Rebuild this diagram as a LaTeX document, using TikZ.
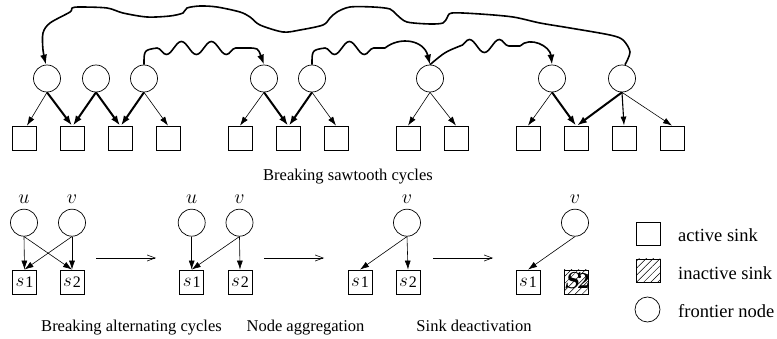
\documentclass[tikz,border=0pt]{standalone}
\usepackage{fix-cm}
\usepackage{fontspec}
\setmainfont{Liberation Serif}
\usetikzlibrary{arrows.meta,decorations.pathmorphing,patterns.meta}
\newcommand\sinklab[1]{$s$\kern1pt\lower1pt\hbox{\fontsize{16}{16}\selectfont #1}}
\begin{document}
\begin{tikzpicture}[x=1pt,y=-1pt,
 circ/.style={circle,draw,line width=0.7pt,minimum size=27pt,inner sep=0pt},
 sq/.style={rectangle,draw,line width=0.8pt,minimum width=24pt,minimum height=24pt,inner sep=0pt,font=\fontsize{19}{19}\selectfont},
 hatchbox/.style={sq,pattern={Lines[angle=45,distance=5pt,line width=0.5pt]}},
 thinarr/.style={line width=0.6pt,-{Latex[length=9pt,width=6pt]}},
 medarr/.style={line width=1.1pt,-{Latex[length=9pt,width=6pt]}},
 thickarr/.style={line width=2pt,-{Latex[length=10pt,width=7pt]}},
 wavy/.style={line width=1.6pt,-{Latex[length=10pt,width=7pt]},line join=round},
 stagearr/.style={line width=0.6pt,-{Straight Barb[length=8pt,width=6pt]}},
 captxt/.style={anchor=base,font=\fontsize{16.5}{18}\selectfont,inner sep=0pt},
 legtxt/.style={anchor=base west,font=\fontsize{18.5}{20}\selectfont,inner sep=0pt},
 mlbl/.style={anchor=base,font=\fontsize{20}{20}\selectfont,inner sep=0pt},
 snk/.style={decoration={snake,segment length=30pt,amplitude=6.5pt}},
 snkm/.style={decoration={snake,segment length=30pt,amplitude=6.5pt,mirror}}
]
\useasboundingbox (0,0) rectangle (777,339);

% ---------- top: sawtooth ----------
\node[circ] (c1) at (47,78.5) {};
\node[circ] (c2) at (96,78.5) {};
\node[circ] (c3) at (144,78.5) {};
\node[circ] (c4) at (264,78.5) {};
\node[circ] (c5) at (312,78.5) {};
\node[circ] (c6) at (430,78.5) {};
\node[circ] (c7) at (552,78.5) {};
\node[circ] (c8) at (622,78.5) {};

\node[sq] (t1) at (24,138) {};
\node[sq] (t2) at (72,138) {};
\node[sq] (t3) at (120,138) {};
\node[sq] (t4) at (168,138) {};
\node[sq] (t5) at (240,138) {};
\node[sq] (t6) at (288,138) {};
\node[sq] (t7) at (336,138) {};
\node[sq] (t8) at (408,138) {};
\node[sq] (t9) at (456,138) {};
\node[sq] (t10) at (528,138) {};
\node[sq] (t11) at (576,138) {};
\node[sq] (t12) at (624,138) {};
\node[sq] (t13) at (672,138) {};

\draw[thinarr] (c1.south) -- ([xshift=3pt]t1.north);
\draw[thickarr] (c1.south) -- (t2.north);
\draw[thickarr] (c2.south) -- ([xshift=1pt]t2.north);
\draw[thickarr] (c2.south) -- (t3.north);
\draw[thickarr] (c3.south) -- ([xshift=1pt]t3.north);
\draw[thinarr] (c3.south) -- (t4.north);
\draw[thinarr] (c4.south) -- (t5.north);
\draw[thickarr] (c4.south) -- (t6.north);
\draw[thickarr] (c5.south) -- ([xshift=1pt]t6.north);
\draw[thinarr] (c5.south) -- (t7.north);
\draw[thinarr] (c6.south) -- (t8.north);
\draw[thinarr] (c6.south) -- (t9.north);
\draw[thinarr] (c7.south) -- (t10.north);
\draw[thickarr] (c7.south) -- (t11.north);
\draw[thickarr] (c8.south) -- ([xshift=1pt]t11.north);
\draw[medarr] (c8.south) -- (t12.north);
\draw[thinarr] (c8.south) -- (t13.north);

% long curve from c8 to c1
\draw[wavy] plot[smooth,tension=0.5] coordinates {([xshift=3pt]c8.north) (630,52) (623,40) (610,35) (570,28) (540,23) (513,17) (480,14) (452,13) (447,18) (443,23) (430,24) (407,22) (397,15) (390,9) (373,7) (350,7) (337,12) (330,18) (323,25) (300,30) (283,32) (260,25) (250,17) (240,12) (217,7) (200,6) (187,8) (183,13) (170,16) (147,17) (123,13) (107,8) (80,7) (72,8) (70,12) (50,23) (43,33) (43,50) ([xshift=-1pt]c1.north)};

% snake arrows
\draw[wavy] (c3.north) .. controls (144,50) .. (157,48) decorate[snkm]{-- (247,48)} .. controls (258,48) .. (c4.north);
\draw[wavy] (c5.north) .. controls (312,50) .. (325,48) decorate[snkm]{-- (385,48)} .. controls (400,36) and (424,40) .. (c6.north);
\draw[wavy] (c6.north) .. controls (445,52) .. (460,46) decorate[snk]{-- (520,46)} .. controls (530,36) and (550,46) .. (c7.north);

\node[captxt] (cap0) at (348,181) {Breaking sawtooth cycles};

% ---------- bottom: group 1 ----------
\node[circ] (u1) at (24,222.7) {};
\node[circ] (v1) at (72,222.7) {};
\node[mlbl] (lu1) at (24,204) {$u$};
\node[mlbl] (lv1) at (72,204) {$v$};
\node[sq] (b1) at (24.5,282) {\sinklab{1}};
\node[sq] (b2) at (72,282) {\sinklab{2}};
\draw[thinarr] (u1.south) -- (b1.north);
\draw[thinarr] (u1.south) -- (b2.north);
\draw[thinarr] (v1.south) -- (b1.north);
\draw[thinarr] (v1.south) -- (b2.north);

\coordinate (p1) at (96,258);
\coordinate (q1) at (156,258);
\draw[stagearr] (p1) -- (q1);

% group 2
\node[circ] (u2) at (191.7,222.7) {};
\node[circ] (v2) at (239.5,222.7) {};
\node[mlbl] (lu2) at (191.7,204) {$u$};
\node[mlbl] (lv2) at (239.5,204) {$v$};
\node[sq] (b3) at (191.7,282) {\sinklab{1}};
\node[sq] (b4) at (240,282) {\sinklab{2}};
\draw[thinarr] (u2.south) -- (b3.north);
\draw[thinarr] (v2.south) -- (b3.north);
\draw[thinarr] (v2.south) -- (b4.north);

\coordinate (p2) at (264,258);
\coordinate (q2) at (324,258);
\draw[stagearr] (p2) -- (q2);

% group 3
\node[circ] (v3) at (407,222.7) {};
\node[mlbl] (lv3) at (407,204) {$v$};
\node[sq] (b5) at (360,282) {\sinklab{1}};
\node[sq] (b6) at (408,282) {\sinklab{2}};
\draw[thinarr] (v3.south) -- (b5.north);
\draw[thinarr] (v3.south) -- (b6.north);

\coordinate (p3) at (433,258);
\coordinate (q3) at (493,258);
\draw[stagearr] (p3) -- (q3);

% group 4
\node[circ] (v4) at (575,222.7) {};
\node[mlbl] (lv4) at (575,204) {$v$};
\node[sq] (b7) at (528,282) {\sinklab{1}};
\node[hatchbox] (b8) at (576,282) {};
\node[font=\fontsize{23}{23}\selectfont\boldmath,inner sep=0pt] (b8t) at (577,281) {$S\mkern-3mu 2$};
\draw[thinarr] (v4.south) -- (b7.north);

% captions
\node[captxt] (cap1) at (131.5,331) {Breaking alternating cycles};
\node[captxt] (cap2) at (305.5,331) {Node aggregation};
\node[captxt] (cap3) at (474,331) {Sink deactivation};

% legend
\node[sq,minimum height=23pt] (L1) at (648,234) {};
\node[hatchbox,minimum height=23pt] (L2) at (648,270.5) {};
\node[circ,minimum size=25pt] (L3) at (647.5,309.5) {};
\node[legtxt] (T1) at (678,241.5) {active sink};
\node[legtxt] (T2) at (678,279.5) {inactive sink};
\node[legtxt] (T3) at (678,317) {frontier node};
\end{tikzpicture}
\end{document}
